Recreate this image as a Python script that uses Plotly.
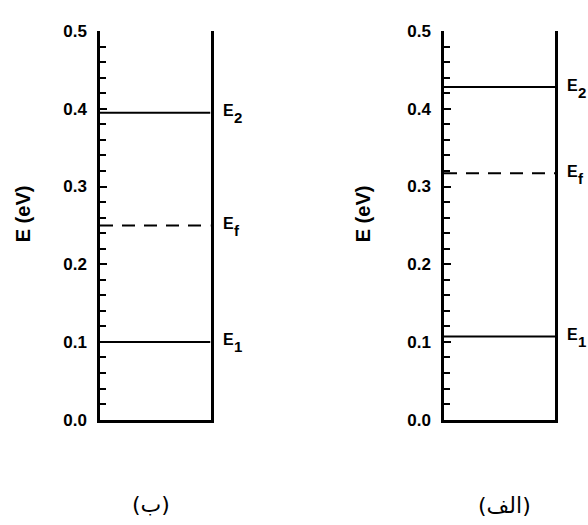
import plotly.graph_objects as go

# ---- data ----
panels = ["(ب)", "(الف)"]
E1_vals = [0.10, 0.107]
Ef_vals = [0.25, 0.317]
E2_vals = [0.395, 0.428]
level_subs = ["1", "f", "2"]
y_title = "E (eV)"
tick_vals = [0.0, 0.1, 0.2, 0.3, 0.4, 0.5]

W, H = 588, 525
FONT = "Liberation Sans, Arial, sans-serif"
AR_FONT = "DejaVu Sans"

fig = go.Figure()

x_domains = [[100 / W, 210.5 / W], [444 / W, 555 / W]]
y_domain = [1 - 426 / H, 1 - 23 / H]

axis_names = [("x", "y"), ("x2", "y2")]
for i in range(2):
    xa, ya = axis_names[i]
    levels = [E1_vals[i], Ef_vals[i], E2_vals[i]]
    for j, lv in enumerate(levels):
        fig.add_trace(go.Scatter(
            x=[0, 1], y=[lv, lv], mode="lines",
            line=dict(color="black", width=2,
                      dash="13px,9px" if j == 1 else "solid"),
            xaxis=xa, yaxis=ya, showlegend=False, hoverinfo="skip"))
        # main letter
        fig.add_annotation(
            x=1, y=lv, xref=xa, yref=ya, text="E",
            showarrow=False, xanchor="left", yanchor="middle",
            xshift=10, yshift=2,
            font=dict(family=FONT, size=16, color="black", weight="bold"))
        # subscript
        fig.add_annotation(
            x=1, y=lv, xref=xa, yref=ya, text=level_subs[j],
            showarrow=False, xanchor="left", yanchor="middle",
            xshift=21, yshift=-5,
            font=dict(family=FONT, size=15, color="black", weight="bold"))

common_x = dict(range=[0, 1], showline=True, linewidth=2.5, linecolor="black",
                showticklabels=False, ticks="", showgrid=False, zeroline=False,
                fixedrange=True)
common_y = dict(range=[0, 0.5], showline=True, mirror=True, linewidth=2.5,
                linecolor="black", tickvals=tick_vals, tickformat=".1f",
                ticks="inside", ticklen=7, tickwidth=2, tickcolor="black",
                minor=dict(dtick=0.02, ticks="inside", ticklen=6, tickwidth=1.5,
                           tickcolor="black"),
                ticklabelstandoff=7,
                tickfont=dict(family=FONT, size=17, color="black", weight="bold"),
                showgrid=False, zeroline=False, fixedrange=True)

fig.update_layout(
    width=W, height=H,
    margin=dict(l=0, r=0, t=0, b=0),
    paper_bgcolor="white", plot_bgcolor="white",
    xaxis=dict(domain=x_domains[0], anchor="y", **common_x),
    yaxis=dict(domain=y_domain, anchor="x", **common_y),
    xaxis2=dict(domain=x_domains[1], anchor="y2", **common_x),
    yaxis2=dict(domain=y_domain, anchor="x2", **common_y),
    showlegend=False,
)

# y titles
for xp in [23 / W, 363 / W]:
    fig.add_annotation(x=xp, y=1 - 213 / H, xref="paper", yref="paper",
                       text=y_title, textangle=-90, showarrow=False,
                       xanchor="center", yanchor="middle",
                       font=dict(family=FONT, size=20, color="black", weight="bold"))

# panel labels
for xp, yp, txt in [(151 / W, 1 - 514 / H, panels[0]), (504 / W, 1 - 515 / H, panels[1])]:
    fig.add_annotation(x=xp, y=yp, xref="paper", yref="paper", text=txt,
                       showarrow=False, xanchor="center", yanchor="middle",
                       font=dict(family=AR_FONT, size=22, color="black"))

fig.write_html("out.html")
